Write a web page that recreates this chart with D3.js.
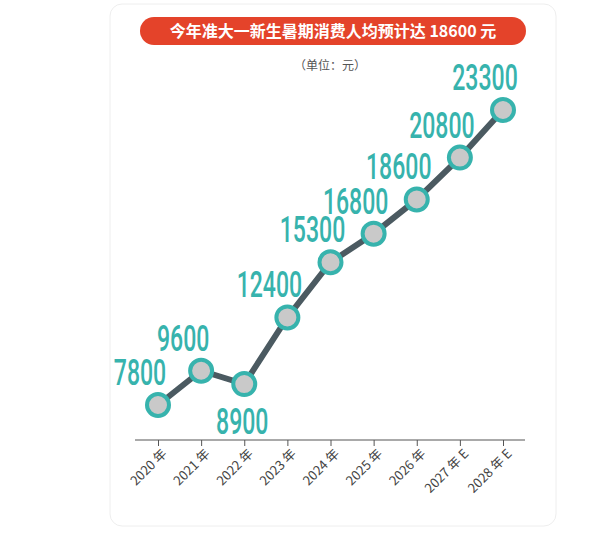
<!DOCTYPE html><html><head><meta charset="utf-8"><script src="https://cdn.jsdelivr.net/npm/d3@7"></script>
<style>body{margin:0;background:#fff}</style></head><body><svg id="c" width="600" height="537"></svg>
<script>
const years=["2020 年","2021 年","2022 年","2023 年","2024 年","2025 年","2026 年","2027 年 E","2028 年 E"];
const values=[7800,9600,8900,12400,15300,16800,18600,20800,23300];
const svg=d3.select("#c");
svg.append("rect").attr("x",110).attr("y",4).attr("width",446).attr("height",522).attr("rx",12).attr("fill","#fff").attr("stroke","#eee");
svg.append("rect").attr("x",140).attr("y",17).attr("width",386).attr("height",28).attr("rx",14).attr("fill","#e4432a");
svg.append("text").attr("x",333).attr("y",37).attr("text-anchor","middle").attr("fill","#fff").attr("font-size",16).attr("font-weight","bold").attr("font-family","Noto Sans CJK SC").text("今年准大一新生暑期消费人均预计达 18600 元");
svg.append("text").attr("x",330).attr("y",70).attr("text-anchor","middle").attr("fill","#555").attr("font-size",12).attr("font-family","Noto Sans CJK SC").text("（单位：元）");
const x=d3.scalePoint().domain(years).range([158,503]);
const y=d3.scaleLinear().domain([7800,23300]).range([405,110]);
const ax=svg.append("g").attr("transform","translate(0,440)").call(d3.axisBottom(x).tickSize(6).tickSizeOuter(0));
ax.select(".domain").attr("d","M135,0H525").attr("stroke","#555");
ax.selectAll("line").attr("stroke","#555");
ax.selectAll("text").attr("font-family","Noto Sans CJK SC").attr("font-size",13).attr("fill","#444").attr("text-anchor","end").attr("transform","rotate(-45)").attr("dx","-0.3em").attr("dy","0.6em");
const data=years.map((d,i)=>({d,v:values[i]}));
svg.append("path").datum(data).attr("fill","none").attr("stroke","#4b5a61").attr("stroke-width",6).attr("d",d3.line().x(p=>x(p.d)).y(p=>y(p.v)));
svg.selectAll("circle.p").data(data).join("circle").attr("cx",p=>x(p.d)).attr("cy",p=>y(p.v)).attr("r",11).attr("fill","#c9c9c9").attr("stroke","#37b3ad").attr("stroke-width",4);
svg.selectAll("text.l").data(data).join("text").attr("font-family","Roboto").attr("font-weight",500).attr("font-size",36).attr("fill","#37b3ad").attr("text-anchor","middle")
 .attr("transform",(p,i)=>{const below=i==2;return `translate(${x(p.d)-(below?2:18)},${y(p.v)+(below?50:-20)}) scale(0.64,1)`;}).text(p=>p.v);
</script></body></html>
